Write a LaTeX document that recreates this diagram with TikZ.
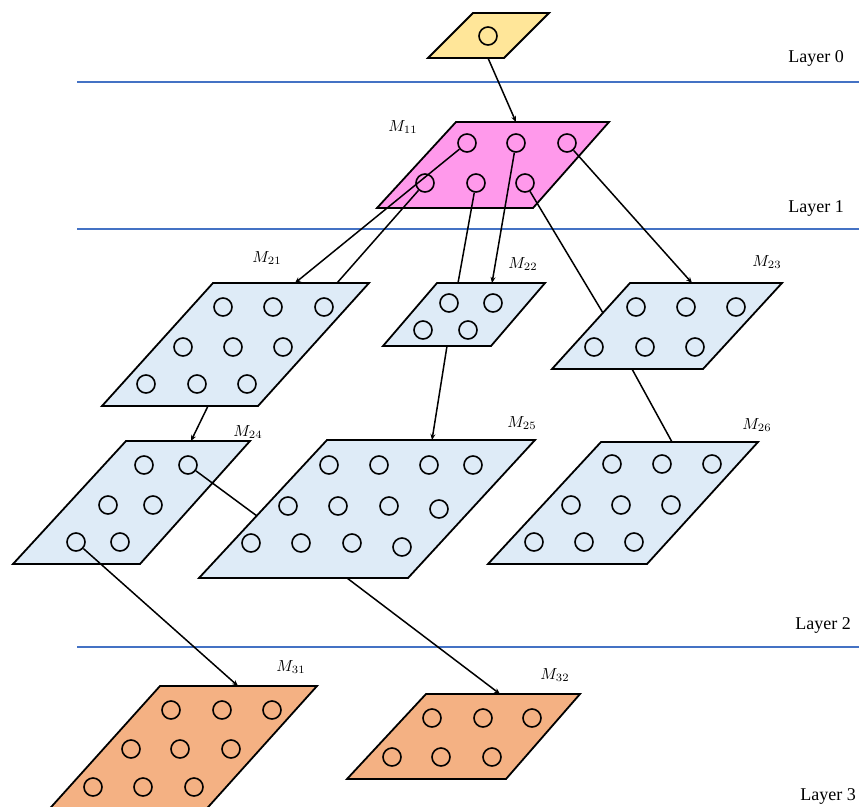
\documentclass[tikz,border=0pt]{standalone}
\usepackage{fontspec}
\newfontfamily\layerfont{Liberation Serif}
\usetikzlibrary{arrows.meta}
\definecolor{lyellow}{RGB}{255,230,153}
\definecolor{lpink}{RGB}{255,153,235}
\definecolor{lblue}{RGB}{222,235,247}
\definecolor{lorange}{RGB}{244,177,131}
\definecolor{sepblue}{RGB}{68,114,196}
\tikzset{
  plg/.style={draw=black, line width=1.8pt, line join=miter},
  neuron/.style={circle, draw=black, line width=1.6pt, minimum size=18pt, inner sep=0pt},
  conn/.style={line width=1.5pt},
  arr/.style={conn, -{Stealth[length=6pt,width=5pt]}},
  sepline/.style={draw=sepblue, line width=1.5pt},
  mlabel/.style={inner sep=0pt, scale=1.6, transform shape},
  layerlabel/.style={font=\layerfont\fontsize{18}{21}\selectfont, inner sep=0pt},
}
\begin{document}
\begin{tikzpicture}[x=1pt,y=-1pt]
\useasboundingbox (0,0) rectangle (859,806);
\clip (0,0) rectangle (859,806);
% separators
\draw[sepline] (77,82) -- (859,82);
\draw[sepline] (77,229) -- (859,229);
\draw[sepline] (77,647) -- (859,647);
% layer labels
\node[layerlabel] (L0) at (816,58) {Layer 0};
\node[layerlabel] (L1) at (816,208) {Layer 1};
\node[layerlabel] (L2) at (823,625) {Layer 2};
\node[layerlabel] (L3) at (828,796) {Layer 3};
% parallelograms
\filldraw[plg, fill=lyellow] (473,13) -- (549,13) -- (504,58) -- (428,58) -- cycle;
\filldraw[plg, fill=lpink] (456,122) -- (609,122) -- (533,208) -- (377,208) -- cycle;
\filldraw[plg, fill=lblue] (213,283) -- (369,283) -- (258,406) -- (102,406) -- cycle;
\filldraw[plg, fill=lblue] (437,283) -- (545,283) -- (491,346) -- (383,346) -- cycle;
\filldraw[plg, fill=lblue] (630,283) -- (782,283) -- (703,369) -- (552,369) -- cycle;
\filldraw[plg, fill=lblue] (126,441) -- (250,441) -- (140,564) -- (13,564) -- cycle;
\filldraw[plg, fill=lblue] (327,440) -- (535,440) -- (408,578) -- (199,578) -- cycle;
\filldraw[plg, fill=lblue] (601,442) -- (758,442) -- (647,564) -- (488,564) -- cycle;
\filldraw[plg, fill=lorange] (160,686) -- (317,686) -- (201,815) -- (44,815) -- cycle;
\filldraw[plg, fill=lorange] (426,694) -- (580,694) -- (506,779) -- (347,779) -- cycle;
% labels
\node[mlabel] (l11) at (403,127) {$M_{11}$};
\node[mlabel] (l21) at (267,258) {$M_{21}$};
\node[mlabel] (l22) at (523,264) {$M_{22}$};
\node[mlabel] (l23) at (767,262) {$M_{23}$};
\node[mlabel] (l24) at (248,432) {$M_{24}$};
\node[mlabel] (l25) at (522,423) {$M_{25}$};
\node[mlabel] (l26) at (757,425) {$M_{26}$};
\node[mlabel] (l31) at (291,667) {$M_{31}$};
\node[mlabel] (l32) at (555,675) {$M_{32}$};
% neurons
\node[neuron] (m0) at (488,36) {};
\foreach \x/\y [count=\i] in {467/143,516/143,567/143,425/183,476/183,525/183}
  \node[neuron] (m11-\i) at (\x,\y) {};
\foreach \x/\y [count=\i] in {223/307,273/307,324/307,183/347,233/347,283/347,146/384,197/384,247/384}
  \node[neuron] (m21-\i) at (\x,\y) {};
\foreach \x/\y [count=\i] in {449/303,493/303,423/330,468/330}
  \node[neuron] (m22-\i) at (\x,\y) {};
\foreach \x/\y [count=\i] in {636/307,686/307,736/307,594/347,645/347,695/347}
  \node[neuron] (m23-\i) at (\x,\y) {};
\foreach \x/\y [count=\i] in {144/465,188/465,108/505,153/505,76/542,120/542}
  \node[neuron] (m24-\i) at (\x,\y) {};
\foreach \x/\y [count=\i] in {329/465,379/465,429/465,473/465,288/506,338/506,389/506,439/509,251/543,301/543,352/543,402/547}
  \node[neuron] (m25-\i) at (\x,\y) {};
\foreach \x/\y [count=\i] in {612/464,662/464,712/464,571/505,621/505,671/505,534/542,584/542,634/542}
  \node[neuron] (m26-\i) at (\x,\y) {};
\foreach \x/\y [count=\i] in {171/710,222/710,272/710,131/749,180/749,231/749,93/787,143/787,194/787}
  \node[neuron] (m31-\i) at (\x,\y) {};
\foreach \x/\y [count=\i] in {432/718,483/718,532/718,392/757,441/757,492/757}
  \node[neuron] (m32-\i) at (\x,\y) {};
% edge coordinates
\coordinate (y0b) at (488,58);
\coordinate (m11t) at (516,122);
\coordinate (m21in) at (295,283);
\coordinate (m21c) at (337,283);
\coordinate (m22c) at (458,283);
\coordinate (m22in) at (492,283);
\coordinate (m23c) at (603,313);
\coordinate (m23in) at (692,283);
\coordinate (m21out) at (208,406);
\coordinate (m24in) at (191,441);
\coordinate (m22out) at (447,346);
\coordinate (m25in) at (432,440);
\coordinate (m23out) at (632,369);
\coordinate (m26in) at (672,442);
\coordinate (m25c) at (257,516);
\coordinate (m31in) at (238,686);
\coordinate (m25out) at (347,578);
\coordinate (m32in) at (500,694);
% connectors
\draw[arr] (y0b) -- (m11t);
\draw[arr] (m11-1) -- (m21in);
\draw[conn] (m21c) -- (m11-4);
\draw[conn] (m11-5) -- (m22c);
\draw[arr] (m11-2) -- (m22in);
\draw[conn] (m11-6) -- (m23c);
\draw[arr] (m11-3) -- (m23in);
\draw[arr] (m21out) -- (m24in);
\draw[arr] (m22out) -- (m25in);
\draw[conn] (m23out) -- (m26in);
\draw[conn] (m24-2) -- (m25c);
\draw[arr] (m24-5) -- (m31in);
\draw[arr] (m25out) -- (m32in);
\end{tikzpicture}
\end{document}
